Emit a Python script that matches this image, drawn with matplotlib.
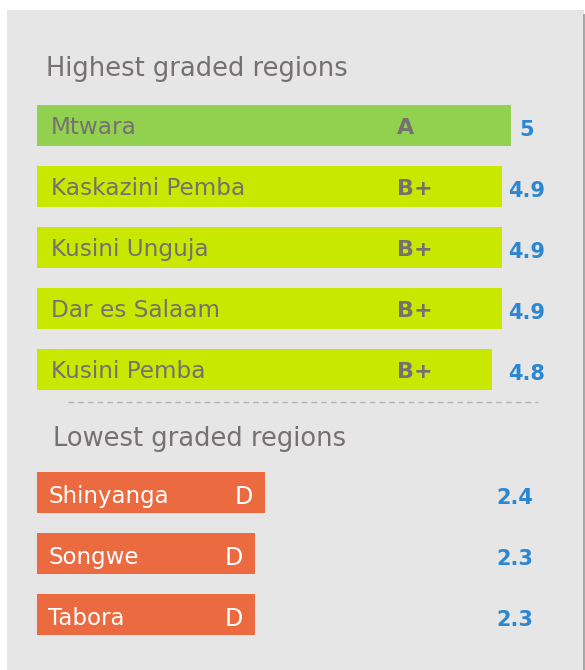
import matplotlib.pyplot as plt
from matplotlib.patches import Rectangle
from matplotlib.lines import Line2D

top_regions = ["Mtwara", "Kaskazini Pemba", "Kusini Unguja", "Dar es Salaam", "Kusini Pemba"]
top_scores = [5.0, 4.9, 4.9, 4.9, 4.8]
top_grades = ["A", "B+", "B+", "B+", "B+"]
top_colors = ["#92D050", "#C9E800", "#C9E800", "#C9E800", "#C9E800"]

low_regions = ["Shinyanga", "Songwe", "Tabora"]
low_scores = [2.4, 2.3, 2.3]
low_grades = ["D", "D", "D"]

GRAY = "#767171"
BLUE = "#2B87D1"
ORANGE = "#EC6A40"
PX = 94.8  # pixels per score unit


def base(y, size):
    # baseline so that the cap height is centred on y (y grows downward)
    return y + 0.729 * size * 100 / 72 / 2


fig = plt.figure(figsize=(5.85, 6.70), dpi=100)
fig.add_artist(Rectangle((7 / 585, 0), 577 / 585, 660 / 670,
                         transform=fig.transFigure, facecolor="#E6E6E6",
                         edgecolor="none", zorder=0))
fig.add_artist(Line2D([584 / 585, 584 / 585], [0, 1 - 15 / 670],
                      transform=fig.transFigure, color="#A6A6A6", lw=1.4))

ax = fig.add_axes([0, 0, 1, 1])
ax.set_xlim(-37 / PX, (585 - 37) / PX)
ax.set_ylim(670, 0)
ax.axis("off")

u = lambda p: (p - 37) / PX  # pixel x -> score units

ax.text(u(46), 76, "Highest graded regions", fontsize=18.5, color=GRAY, va="baseline")
ys = [125.5 + 61 * i for i in range(len(top_regions))]
ax.barh(ys, top_scores, height=41, left=0, color=top_colors)
for y, name, s, g in zip(ys, top_regions, top_scores, top_grades):
    ax.text(u(51), base(y, 16.7), name, fontsize=16.7, color=GRAY, va="baseline")
    ax.text(u(397), base(y, 16), g, fontsize=16, color=GRAY, fontweight="bold", va="baseline")
    ax.text(u(527), base(y + 3, 15), f"{s:g}", fontsize=15, color=BLUE,
            fontweight="bold", va="baseline", ha="center")

ax.plot([u(68), u(538)], [402, 402], color="#B3B3B3", lw=1, dashes=(4, 3))

ax.text(u(53), 446, "Lowest graded regions", fontsize=18.5, color=GRAY, va="baseline")
ys = [492.5 + 61 * i for i in range(len(low_regions))]
ax.barh(ys, low_scores, height=41, left=0, color=ORANGE)
for y, name, s, g in zip(ys, low_regions, low_scores, low_grades):
    ax.text(u(48), base(y + 2, 16.5), name, fontsize=16.5, color="white", va="baseline")
    ax.text(s - 12 / PX, base(y + 3, 17), g, fontsize=17, color="white",
            va="baseline", ha="right")
    ax.text(u(515), base(y + 4, 15), f"{s:g}", fontsize=15, color=BLUE,
            fontweight="bold", va="baseline", ha="center")

fig.savefig("out.png", dpi=100)
